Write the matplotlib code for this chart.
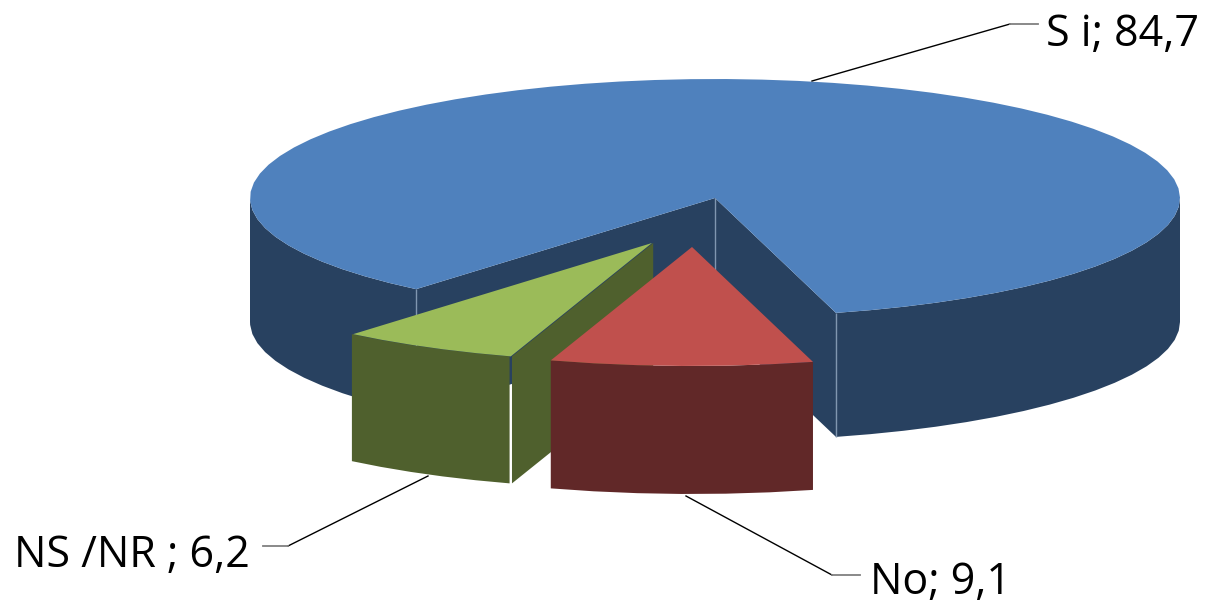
"""3D style exploded pie chart, top faces and walls drawn as polygons."""
import numpy as np
import matplotlib
matplotlib.use("Agg")
import matplotlib.pyplot as plt
from matplotlib.patches import Polygon

plt.rcParams['font.family'] = ['Open Sans', 'DejaVu Sans']

# data
categories = ["S i", "No", "NS /NR "]
values = [84.7, 9.1, 6.2]

# styles and layout (pixels)
top_colors = ["#4F81BD", "#C0504D", "#9BBB59"]
wall_colors = ["#284160", "#612828", "#4F602D"]
edge_colors = ["#8096B0", "#8A5E5E", "#7F8C66"]
centers = [(715, 198), (692, 247), (652, 243)]
depths = [124, 128, 127]
rx, ry = 465, 119
start_angle = 130

fig = plt.figure(figsize=(12.1, 6.05), dpi=100)
ax = fig.add_axes([0, 0, 1, 1])
ax.set_xlim(0, 1210)
ax.set_ylim(605, 0)
ax.axis("off")


def rim(center, t):
    t = np.radians(t)
    return np.column_stack([center[0] + rx * np.cos(t), center[1] + ry * np.sin(t)])


def wall(points, depth, color, z, gap=0):
    # extrude a line of points downwards
    pts = np.array(points, dtype=float)
    pts[:, 0] += gap
    low = pts + [0, depth]
    ax.add_patch(Polygon(np.vstack([pts, low[::-1]]), closed=True, fc=color, ec="none", zorder=z))


def vline(x, y0, y1, color, z):
    ax.plot([x, x], [y0, y1], color=color, lw=1, zorder=z, solid_capstyle="butt")


# slice angles from the values
sweeps = np.array(values) / sum(values) * 360
starts = start_angle + np.concatenate([[0], np.cumsum(sweeps)[:-1]])
ends = starts + sweeps

# blue slice first, it sits behind the other two
c, d = centers[0], depths[0]
a0, a1 = starts[0], ends[0]
p0 = rim(c, a0)[0]
p1 = rim(c, a1)[0]
wall(np.vstack([c, p0]), d, wall_colors[0], 1)
wall(np.vstack([c, p1]), d, wall_colors[0], 1)
blue_angles = np.linspace(a0, a1, 70)
wall(rim(c, np.r_[a0, blue_angles[(blue_angles > a0) & (blue_angles < 180)], 180]), d, wall_colors[0], 1)
wall(rim(c, np.r_[360, blue_angles[(blue_angles > 360) & (blue_angles < a1)], a1]), d, wall_colors[0], 1)
vline(c[0], c[1], c[1] + d, edge_colors[0], 2)
vline(p0[0], p0[1], p0[1] + d, edge_colors[0], 2)
vline(p1[0], p1[1], p1[1] + d, edge_colors[0], 2)
ax.add_patch(Polygon(np.vstack([c, rim(c, blue_angles)]), closed=True,
                     fc=top_colors[0], ec="none", zorder=3))

# green slice
c, d = centers[2], depths[2]
a0, a1 = starts[2], ends[2]
p0 = rim(c, a0)[0]
green_angles = np.linspace(a0, a1, 6)
wall(np.vstack([c, p0]), d, wall_colors[2], 4, gap=1.2)
wall(rim(c, green_angles), d, wall_colors[2], 5, gap=-1.2)
ax.add_patch(Polygon(np.vstack([c, rim(c, green_angles)]), closed=True,
                     fc=top_colors[2], ec="none", zorder=6))

# red slice in front
c, d = centers[1], depths[1]
a0, a1 = starts[1], ends[1]
red_angles = np.linspace(a0, a1, 7)
wall(rim(c, red_angles), d, wall_colors[1], 7)
ax.add_patch(Polygon(np.vstack([c, rim(c, red_angles)]), closed=True,
                     fc=top_colors[1], ec="none", zorder=8))

# leader lines
ax.plot([812, 1010], [81, 24], color="black", lw=1, zorder=9)
ax.plot([1010, 1038], [24, 24], color="#808080", lw=1.3, zorder=9)
ax.plot([686, 832], [496, 575], color="black", lw=1, zorder=9)
ax.plot([832, 860], [575, 575], color="#808080", lw=1.3, zorder=9)
ax.plot([428, 288], [476, 546], color="black", lw=1, zorder=9)
ax.plot([288, 263], [546, 546], color="#808080", lw=1.3, zorder=9)

# data labels
labels = [f"{n}; {str(v).replace('.', ',')}" for n, v in zip(categories, values)]
label_pos = [(1046, 46), (870, 594), (14, 567)]
for txt, (x, y) in zip(labels, label_pos):
    ax.text(x, y, txt, fontsize=31, color="black", ha="left", va="baseline", zorder=10)

fig.savefig("out.png", dpi=100, facecolor="white")
